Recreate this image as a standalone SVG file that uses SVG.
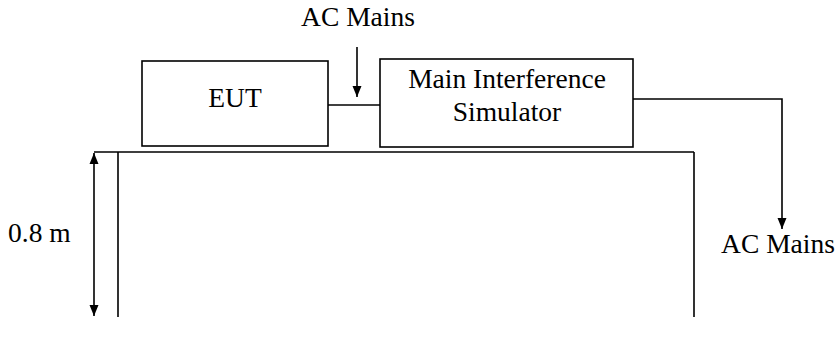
<svg xmlns="http://www.w3.org/2000/svg" width="839" height="340" viewBox="0 0 839 340">
<defs>
<marker id="ah" viewBox="0 0 11 10" refX="11" refY="5" markerWidth="11" markerHeight="10" markerUnits="userSpaceOnUse" orient="auto-start-reverse">
<path d="M0,0.5 L11,5 L0,9.5 Z" fill="#000"/>
</marker>
<style>
.box{fill:#fff;stroke:#000;stroke-width:1.6}
.ln{fill:none;stroke:#000;stroke-width:1.6}
.t{font-family:"Liberation Serif","Times New Roman",serif;font-size:27.5px;fill:#000}
</style>
</defs>
<rect width="839" height="340" fill="#fff"/>
<g id="table">
<path class="ln" d="M94,152 H694 M118,152 V317 M694,152 V317"/>
</g>
<g id="eut">
<rect class="box" x="142" y="61" width="186" height="85"/>
<text class="t" x="235" y="107" text-anchor="middle">EUT</text>
</g>
<g id="mis">
<rect class="box" x="380" y="59" width="253" height="88"/>
<text class="t" x="507" y="88" text-anchor="middle">Main Interference</text>
<text class="t" x="507" y="121" text-anchor="middle">Simulator</text>
</g>
<g id="ac-top">
<text class="t" x="358" y="26" text-anchor="middle">AC Mains</text>
</g>
<g id="ac-right">
<text class="t" x="778" y="253" text-anchor="middle">AC Mains</text>
</g>
<g id="dim">
<text class="t" x="8" y="242">0.8 m</text>
</g>
<g id="connectors">
<path class="ln" d="M328,105 H380"/>
<path class="ln" d="M357,47 V97" marker-end="url(#ah)"/>
<path class="ln" d="M633,99 H782 V229" marker-end="url(#ah)"/>
<path class="ln" d="M94,153 V316" marker-start="url(#ah)" marker-end="url(#ah)"/>
</g>
</svg>
